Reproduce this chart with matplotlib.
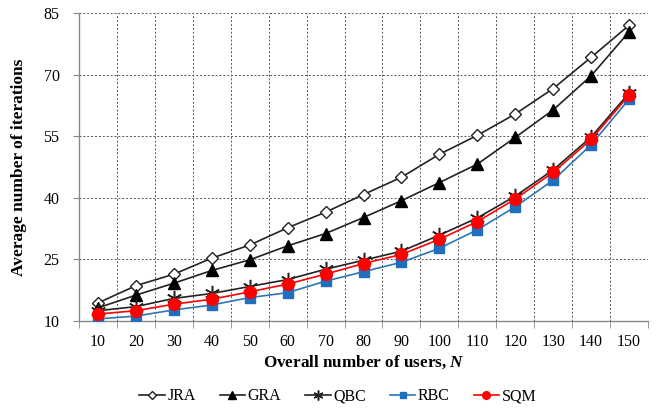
import matplotlib
matplotlib.use("Agg")
import matplotlib.pyplot as plt
import numpy as np

plt.rcParams['font.family'] = ['Liberation Serif', 'DejaVu Serif']
plt.rcParams['mathtext.fontset'] = 'custom'
plt.rcParams['mathtext.it'] = 'Liberation Serif:italic:bold'

# data
users = [10, 20, 30, 40, 50, 60, 70, 80, 90, 100, 110, 120, 130, 140, 150]
jra = [14.4, 18.6, 21.4, 25.3, 28.5, 32.7, 36.5, 40.8, 45.0, 50.6, 55.2, 60.4, 66.6, 74.2, 82.0]
gra = [13.2, 16.3, 19.2, 22.3, 24.9, 28.3, 31.3, 35.2, 39.3, 43.7, 48.2, 54.7, 61.4, 69.7, 80.4]
qbc = [12.5, 13.5, 15.5, 16.7, 18.4, 20.1, 22.6, 24.8, 27.0, 30.9, 35.1, 40.4, 46.8, 54.8, 65.5]
rbc = [10.5, 11.2, 12.7, 13.9, 15.7, 16.9, 19.7, 22.0, 24.3, 27.7, 32.2, 37.8, 44.3, 52.9, 64.0]
sqm = [11.7, 12.5, 14.1, 15.3, 17.1, 19.0, 21.4, 24.0, 26.2, 29.9, 34.2, 39.7, 46.2, 54.2, 65.0]

fig = plt.figure(figsize=(6.64, 4.08), dpi=100)
ax = fig.add_axes([79 / 664, 1 - 321 / 408, (648 - 79) / 664, (321 - 13) / 408])

x = np.arange(len(users))

# grid (dashed), verticals sit between categories
for y in [25, 40, 55, 70, 85]:
    ax.axhline(y, color='#555555', linestyle=(0, (2, 2)), linewidth=0.7, zorder=0)
for b in np.arange(0.5, len(users) - 0.5, 1):
    ax.axvline(b, color='#555555', linestyle=(0, (2, 2)), linewidth=0.7, zorder=0)

ax.plot(x, jra, color='#222222', lw=1.2, marker='D', ms=6.5, mfc='white', mec='#222222', mew=1.0, label='JRA', zorder=3)
ax.plot(x, gra, color='#222222', lw=1.2, marker='^', ms=8, mfc='black', mec='black', label='GRA', zorder=3)
ax.plot(x, qbc, color='#222222', lw=1.2, marker=(6, 2, 0), ms=11, mec='#222222', mew=1.1, label='QBC', zorder=3)
ax.plot(x, rbc, color='#2E75B6', lw=1.2, marker='s', ms=7, mfc='#1F6FBF', mec='#1F6FBF', label='RBC', zorder=4)
ax.plot(x, sqm, color='#FF0000', lw=1.2, marker='o', ms=8.5, mfc='#FF0000', mec='#FF0000', label='SQM', zorder=5)

ax.set_xlim(-0.5, len(users) - 0.5)
ax.set_ylim(10, 85)
ax.set_yticks([10, 25, 40, 55, 70, 85])
ax.set_xticks(x)
ax.set_xticklabels([str(u) for u in users])
ax.set_xticks(np.arange(-0.5, len(users), 1), minor=True)
ax.tick_params(axis='x', which='major', length=0, labelsize=11.5, pad=9)
ax.tick_params(axis='x', which='minor', length=5, color='#888888', direction='out')
ax.tick_params(axis='y', length=4, color='#888888', direction='out', labelsize=11.5, pad=10)

for s in ['top', 'right']:
    ax.spines[s].set_visible(False)
for s in ['left', 'bottom']:
    ax.spines[s].set_color('#888888')
    ax.spines[s].set_linewidth(1.0)

ax.set_xlabel('Overall number of users, $\\mathit{N}$', fontsize=12.3, fontweight='bold', labelpad=3)
ax.set_ylabel('Average number of iterations', fontsize=12.5, fontweight='bold', labelpad=12)

ax.legend(loc='center', bbox_to_anchor=(0.455, -0.245), ncol=5, frameon=False,
          fontsize=11.5, handlelength=1.6, columnspacing=1.5, handletextpad=0.15,
          markerscale=0.65)

fig.savefig('out.png', dpi=100)
